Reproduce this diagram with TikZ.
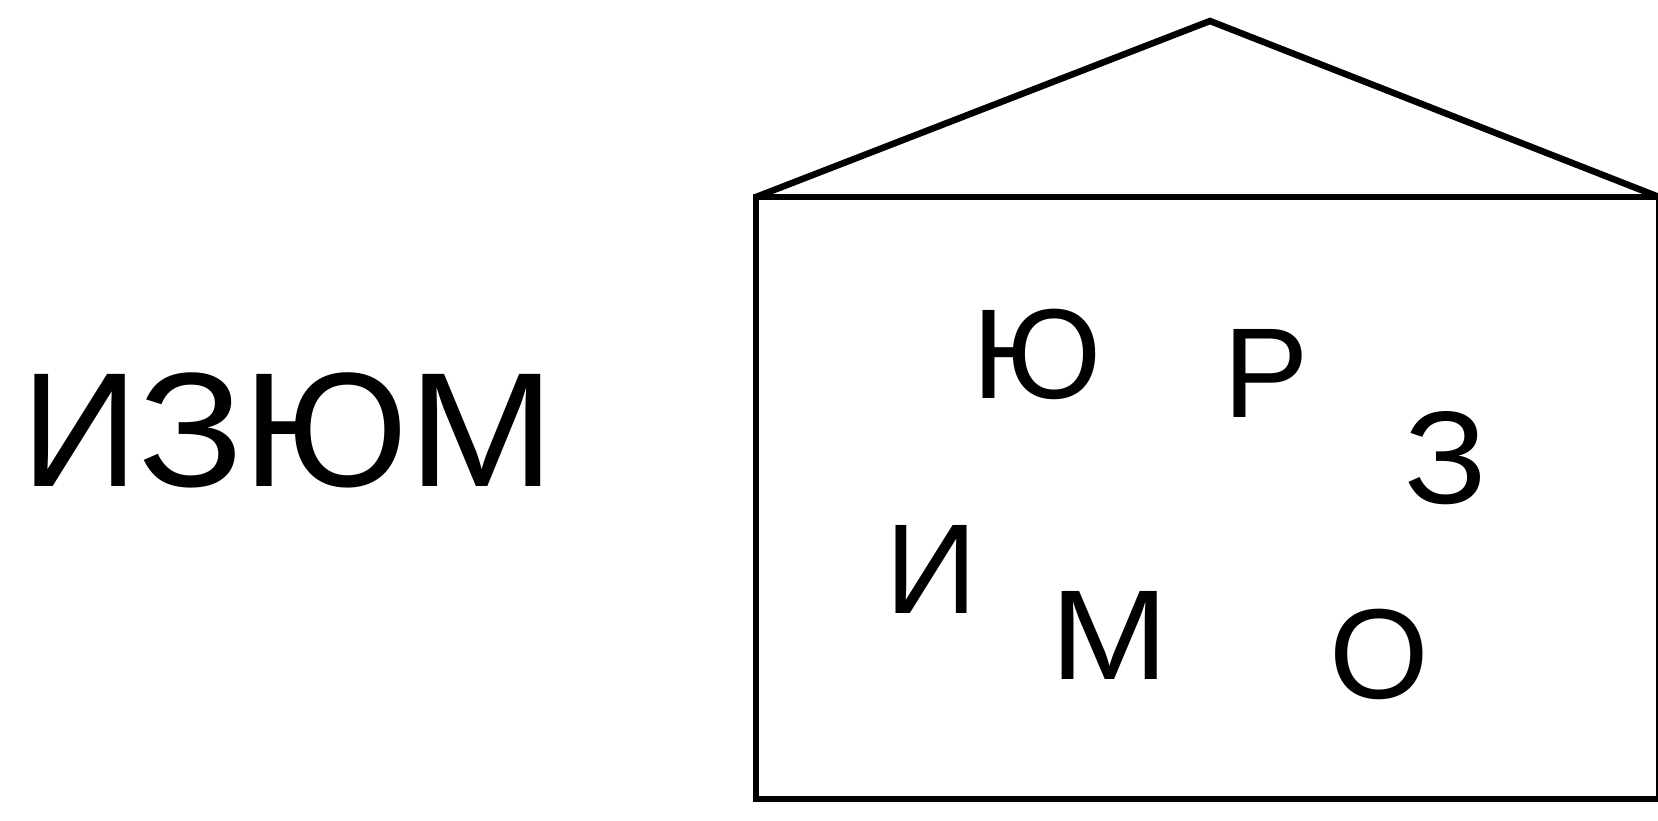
\documentclass[tikz,border=0pt]{standalone}
\usepackage{fontspec}
\setmainfont{Liberation Sans}
\begin{document}
\begin{tikzpicture}[x=1pt,y=-1pt,
  wall/.style={line width=6.5pt,line join=miter},
  bigword/.style={inner sep=0pt,anchor=base,font=\fontsize{163}{163}\selectfont},
  letter/.style={inner sep=0pt,anchor=base,font=\fontsize{128}{128}\selectfont}]
\useasboundingbox (0,0) rectangle (1658,821);
\coordinate (bl) at (756,799);
\coordinate (tl) at (756,197);
\coordinate (tr) at (1659,197);
\coordinate (br) at (1659,799);
\coordinate (apex) at (1210,21);
\draw[wall] (tl) -- (apex) -- (tr);
\draw[wall] (tl) -- (tr) -- (br) -- (bl) -- cycle;
\node[bigword] (word) at (288,486) {И\scalebox{1.07}[1]{З}Ю\scalebox{1.08}[1]{М}};
\node[letter] (yu) at (1037,398) {Ю};
\node[letter] (er) at (1266,417) {Р};
\node[letter] (ze) at (1446,503) {\scalebox{1.07}[1.03]{З}};
\node[letter] (i) at (931,613) {И};
\node[letter] (em) at (1110,679) {\scalebox{1.11}[1]{М}};
\node[letter] (o) at (1379,698) {О};
\end{tikzpicture}
\end{document}
